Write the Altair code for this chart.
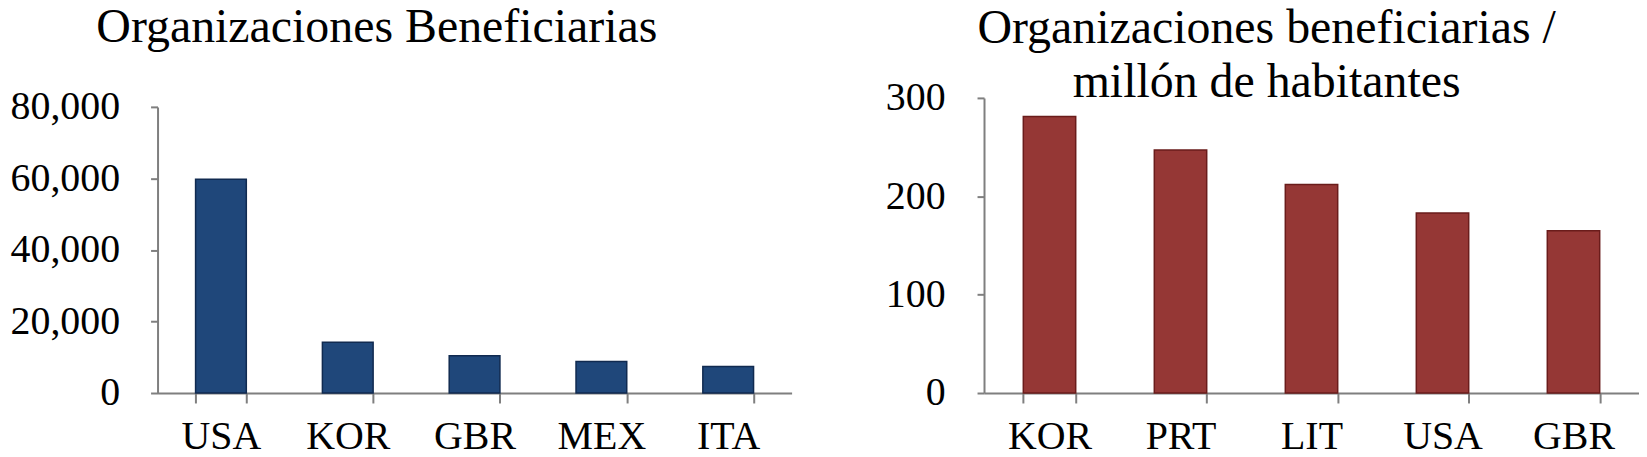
import altair as alt
import pandas as pd

# ---- data ----
left_countries = ["USA", "KOR", "GBR", "MEX", "ITA"]
left_values = [59800, 14200, 10400, 8800, 7400]

right_countries = ["KOR", "PRT", "LIT", "USA", "GBR"]
right_values = [281, 247, 212, 183, 165]

left_title = "Organizaciones Beneficiarias"
right_title = ["Organizaciones beneficiarias /", "millón de habitantes"]

FONT = "'Liberation Serif', 'Times New Roman', Times, 'DejaVu Serif', serif"
AXIS_GRAY = "#7f7f7f"

PANEL_H = 296


def panel(cats, vals, fill, stroke, ymax, step, width, top_gap, fmt,
          ylab_pad, title, t_dx, t_offset):
    df = pd.DataFrame({"pais": cats, "valor": vals})
    x = alt.X(
        "pais:N", sort=cats, title=None,
        scale=alt.Scale(paddingInner=0.6, paddingOuter=0.3),
        axis=alt.Axis(
            labelAngle=0, labelFont=FONT, labelFontSize=40, labelColor="black",
            labelPadding=14, tickBand="extent", tickSize=10, tickColor=AXIS_GRAY,
            tickWidth=2, domainColor=AXIS_GRAY, domainWidth=2, grid=False,
        ),
    )
    y = alt.Y(
        "valor:Q", title=None,
        scale=alt.Scale(domain=[0, ymax], range=[PANEL_H, top_gap], nice=False),
        axis=alt.Axis(
            values=list(range(0, ymax + 1, step)), format=fmt,
            labelFont=FONT, labelFontSize=40, labelColor="black",
            labelPadding=ylab_pad, tickSize=7, tickColor=AXIS_GRAY, tickWidth=2,
            domainColor=AXIS_GRAY, domainWidth=2, grid=False,
        ),
    )
    return (
        alt.Chart(df)
        .mark_bar(color=fill, stroke=stroke, strokeWidth=1.5)
        .encode(x=x, y=y)
        .properties(
            width=width, height=PANEL_H,
            title=alt.TitleParams(
                text=title, font=FONT, fontSize=48, fontWeight="normal",
                color="black", anchor="middle", dx=t_dx, offset=t_offset,
                lineHeight=55,
            ),
        )
    )


left = panel(left_countries, left_values, "#1f477a", "#102a50", 80000, 20000,
             636, 9, ",.0f", 31, left_title, -98, 35)
right = panel(right_countries, right_values, "#953735", "#6a1c1b", 300, 100,
              657, 0, ".0f", 32, right_title, -45, -29.5)

chart = (
    alt.hconcat(left, right, spacing=193, bounds="flush")
    .properties(padding={"left": 2, "top": -4.5, "right": 0, "bottom": 0})
    .configure_view(stroke=None)
)

chart.save("out.html", embed_options={"renderer": "svg", "actions": False})
